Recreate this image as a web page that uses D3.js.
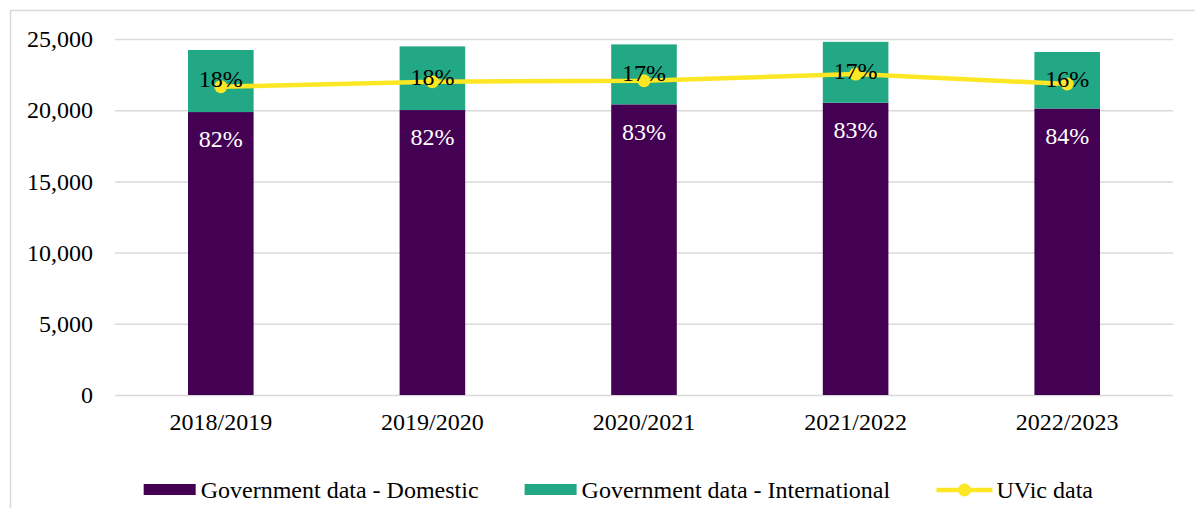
<!DOCTYPE html>
<html>
<head>
<meta charset="utf-8">
<script src="https://cdn.jsdelivr.net/npm/d3@7"></script>
<style>
  body { margin: 0; background: #fff; }
  svg { display: block; font-family: "Liberation Serif", "Times New Roman", serif; }
</style>
</head>
<body>
<div id="chart"></div>
<script>
// enrolment chart
var categories = ["2018/2019", "2019/2020", "2020/2021", "2021/2022", "2022/2023"]
var domestic = [19870, 20010, 20410, 20520, 20120]
var international = [4360, 4470, 4210, 4280, 3970]
var uvic = [21650, 22000, 22070, 22540, 21840]
var domesticPct = ["82%", "82%", "83%", "83%", "84%"]
var internationalPct = ["18%", "18%", "17%", "17%", "16%"]
var yTicks = [0, 5000, 10000, 15000, 20000, 25000]
var legendNames = ["Government data - Domestic", "Government data - International", "UVic data"]

var colors = { domestic: "#440154", intl: "#22A884", uvic: "#FDE725" }

function renderChart(frame_id) {
    let width = 1195
    let height = 508
    let margin = { left: 115, right: 22, top: 39, bottom: 113 }

    var svg = d3.select("#" + frame_id)
        .append("svg")
        .attr("width", width)
        .attr("height", height)

    // outer chart frame (only top and left edges show)
    svg.append("rect")
        .attr("x", 10.5).attr("y", 10.5)
        .attr("width", width + 20).attr("height", height + 20)
        .attr("fill", "none")
        .attr("stroke", "#d9d9d9")
        .attr("stroke-width", 1.5)

    var x = d3.scaleBand()
        .domain(categories)
        .range([margin.left, width - margin.right])
        .paddingInner(0.69)
        .paddingOuter(0.345)

    var y = d3.scaleLinear()
        .domain([0, 25000])
        .range([height - margin.bottom, margin.top])

    var yAxis = svg.append("g")
        .attr("transform", "translate(" + margin.left + ",0)")
        .call(d3.axisLeft(y)
            .tickValues(yTicks)
            .tickFormat(d3.format(","))
            .tickSize(-(width - margin.left - margin.right))
            .tickPadding(22))
    yAxis.select(".domain").remove()
    yAxis.selectAll("line").attr("stroke", "#d9d9d9").attr("stroke-width", 1.5)
    yAxis.selectAll("text")
        .style("font-size", "24px")
        .style("font-family", "'Liberation Serif', 'Times New Roman', serif")
        .attr("fill", "#000")

    var xAxis = svg.append("g")
        .attr("transform", "translate(0," + (height - margin.bottom) + ")")
        .call(d3.axisBottom(x).tickSize(0).tickPadding(18))
    xAxis.select(".domain").remove()
    xAxis.selectAll("text")
        .style("font-size", "24px")
        .style("font-family", "'Liberation Serif', 'Times New Roman', serif")
        .attr("fill", "#000")

    var rows = categories.map(function (c, i) {
        return { cat: c, dom: domestic[i], intl: international[i], uvic: uvic[i], dp: domesticPct[i], ip: internationalPct[i] }
    })

    svg.selectAll("rect.dom")
        .data(rows)
        .enter()
        .append("rect")
        .attr("class", "dom")
        .attr("x", function (d) { return x(d.cat) })
        .attr("width", x.bandwidth())
        .attr("y", function (d) { return y(d.dom) })
        .attr("height", function (d) { return y(0) - y(d.dom) })
        .attr("fill", colors.domestic)

    svg.selectAll("rect.intl")
        .data(rows)
        .enter()
        .append("rect")
        .attr("class", "intl")
        .attr("x", function (d) { return x(d.cat) })
        .attr("width", x.bandwidth())
        .attr("y", function (d) { return y(d.dom + d.intl) })
        .attr("height", function (d) { return y(d.dom) - y(d.dom + d.intl) })
        .attr("fill", colors.intl)

    var cx = function (d) { return x(d.cat) + x.bandwidth() / 2 }

    var line = d3.line()
        .x(cx)
        .y(function (d) { return y(d.uvic) })

    svg.append("path")
        .datum(rows)
        .attr("d", line)
        .attr("fill", "none")
        .attr("stroke", colors.uvic)
        .attr("stroke-width", 4.5)
        .attr("stroke-linejoin", "round")

    svg.selectAll("circle.uvic")
        .data(rows)
        .enter()
        .append("circle")
        .attr("cx", cx)
        .attr("cy", function (d) { return y(d.uvic) })
        .attr("r", 6.5)
        .attr("fill", colors.uvic)

    svg.selectAll("text.dp")
        .data(rows)
        .enter()
        .append("text")
        .attr("x", cx)
        .attr("y", function (d) { return y(d.dom) + 27 })
        .attr("dy", "0.35em")
        .attr("text-anchor", "middle")
        .style("font-size", "24px")
        .attr("fill", "#fff")
        .text(function (d) { return d.dp })

    svg.selectAll("text.ip")
        .data(rows)
        .enter()
        .append("text")
        .attr("x", cx)
        .attr("y", function (d) { return (y(d.dom) + y(d.dom + d.intl)) / 2 - 2 })
        .attr("dy", "0.35em")
        .attr("text-anchor", "middle")
        .style("font-size", "24px")
        .attr("fill", "#000")
        .text(function (d) { return d.ip })

    // legend
    var legend = svg.append("g")
    var items = legend.selectAll("g")
        .data(legendNames)
        .enter()
        .append("g")

    items.each(function (d, i) {
        var g = d3.select(this)
        if (i < 2) {
            g.append("rect")
                .attr("x", 0).attr("y", -6)
                .attr("width", 52).attr("height", 11)
                .attr("fill", i == 0 ? colors.domestic : colors.intl)
        } else {
            g.append("line")
                .attr("x1", 0).attr("x2", 56)
                .attr("y1", 0).attr("y2", 0)
                .attr("stroke", colors.uvic)
                .attr("stroke-width", 4.5)
            g.append("circle")
                .attr("cx", 28).attr("cy", 0).attr("r", 6.5)
                .attr("fill", colors.uvic)
        }
        g.append("text")
            .attr("x", i < 2 ? 57 : 60)
            .attr("y", 0)
            .attr("dy", "0.35em")
            .style("font-size", "24px")
            .attr("fill", "#000")
            .text(d)
    })

    var gap = 46
    var offsets = []
    var total = 0
    items.each(function (d, i) {
        var w = this.getBBox().width
        offsets.push(total)
        total += w + (i < legendNames.length - 1 ? gap : 0)
    })
    var start = 618.5 - total / 2
    items.attr("transform", function (d, i) { return "translate(" + (start + offsets[i]) + ",490)" })
}

document.addEventListener('DOMContentLoaded', function () { renderChart("chart") }, false);
</script>
</body>
</html>
